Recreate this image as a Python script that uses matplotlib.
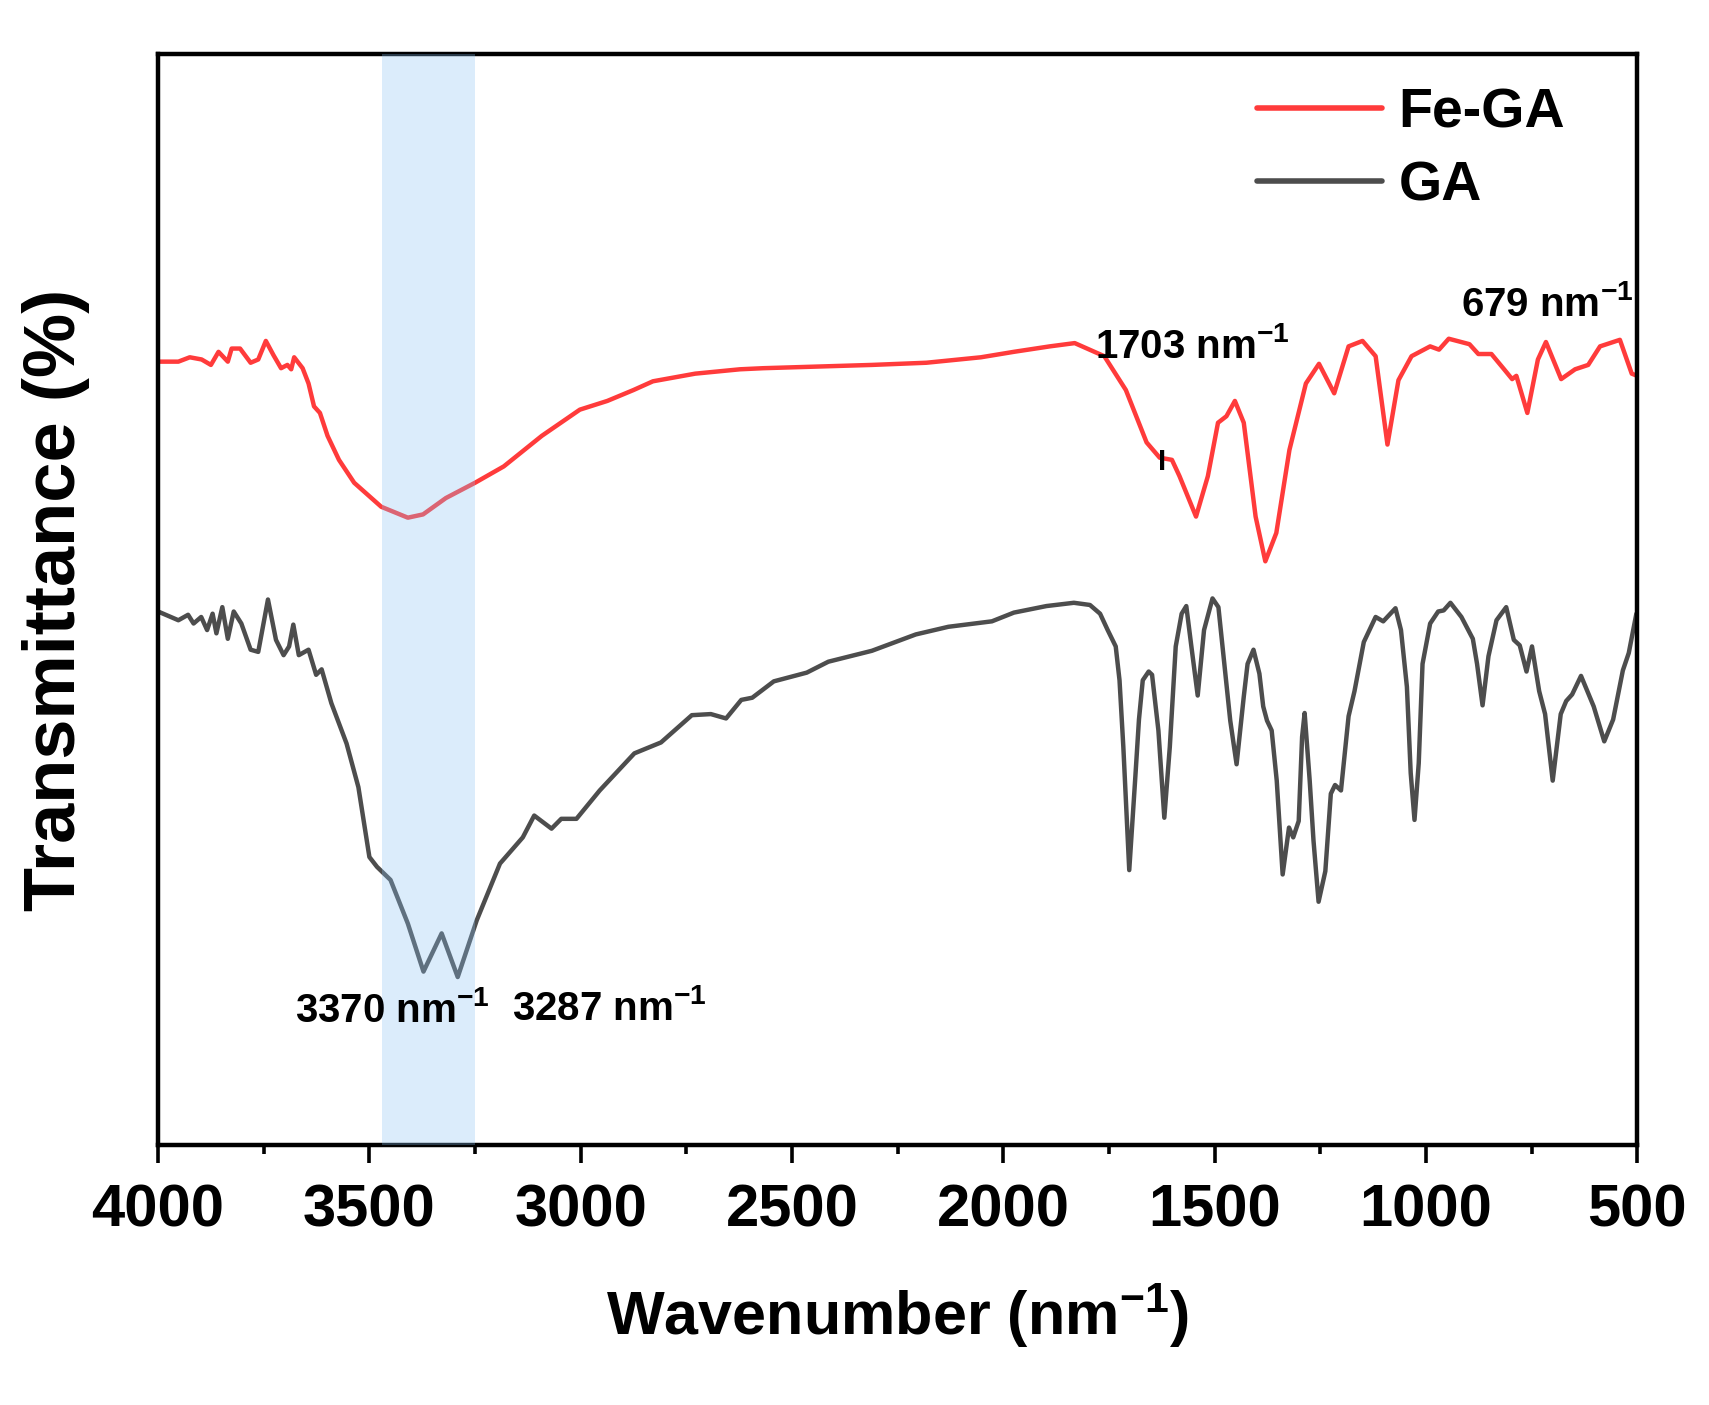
import matplotlib.pyplot as plt
from matplotlib.ticker import MultipleLocator, NullLocator

plt.rcParams['font.family'] = ['Liberation Sans', 'DejaVu Sans']
plt.rcParams['font.weight'] = 'bold'
plt.rcParams['mathtext.fontset'] = 'custom'
plt.rcParams['mathtext.bf'] = 'Liberation Sans:bold'
plt.rcParams['mathtext.rm'] = 'Liberation Sans:bold'
plt.rcParams['mathtext.default'] = 'bf'

# Fe-GA spectrum (wavenumber, transmittance a.u.)
fe_ga_wn = [4000, 3952, 3925, 3897, 3875, 3857, 3835, 3826, 3806, 3781, 3763, 3745,
            3727, 3709, 3694, 3685, 3678, 3658, 3644, 3631, 3617, 3599, 3572, 3536,
            3472, 3409, 3373, 3319, 3250, 3182, 3092, 3002, 2937, 2875, 2829, 2729,
            2623, 2568, 2311, 2182, 2053, 1975, 1890, 1831, 1761, 1710, 1661, 1630,
            1601, 1583, 1544, 1516, 1492, 1472, 1452, 1431, 1403, 1380, 1354, 1323,
            1284, 1253, 1217, 1183, 1150, 1119, 1091, 1065, 1034, 990, 969, 946,
            897, 876, 845, 815, 796, 786, 760, 735, 716, 680, 647, 616, 588, 541,
            513, 500]
fe_ga_t = [71.8, 71.8, 72.2, 72.0, 71.5, 72.7, 71.8, 73.0, 73.0, 71.7, 72.0, 73.7,
           72.4, 71.2, 71.5, 71.1, 72.2, 71.2, 69.8, 67.7, 67.1, 65.0, 62.8, 60.7,
           58.5, 57.5, 57.8, 59.3, 60.7, 62.2, 65.0, 67.4, 68.2, 69.2, 70.0, 70.7,
           71.1, 71.2, 71.5, 71.7, 72.2, 72.7, 73.2, 73.5, 72.3, 69.2, 64.4, 63.0,
           62.8, 61.3, 57.6, 61.3, 66.2, 66.8, 68.2, 66.2, 57.6, 53.5, 56.1, 63.7,
           69.8, 71.6, 68.9, 73.2, 73.7, 72.3, 64.2, 70.1, 72.3, 73.2, 72.9, 73.9,
           73.4, 72.5, 72.5, 71.1, 70.2, 70.5, 67.1, 72.0, 73.6, 70.2, 71.1, 71.5,
           73.2, 73.8, 70.7, 70.5]

# GA spectrum
ga_wn = [4000, 3952, 3929, 3916, 3898, 3884, 3871, 3862, 3848, 3835, 3821, 3803,
         3781, 3763, 3740, 3721, 3703, 3690, 3680, 3667, 3644, 3626, 3613, 3590,
         3554, 3526, 3500, 3482, 3450, 3409, 3372, 3329, 3291, 3246, 3191, 3137,
         3110, 3069, 3046, 3010, 2955, 2873, 2810, 2737, 2692, 2656, 2620, 2594,
         2543, 2465, 2414, 2311, 2207, 2130, 2027, 1975, 1898, 1833, 1795, 1771,
         1753, 1734, 1725, 1716, 1702, 1688, 1679, 1670, 1656, 1648, 1633, 1619,
         1606, 1592, 1578, 1567, 1555, 1540, 1525, 1505, 1491, 1477, 1463, 1448,
         1431, 1422, 1408, 1394, 1385, 1376, 1365, 1353, 1339, 1324, 1314, 1301,
         1293, 1287, 1275, 1266, 1254, 1238, 1225, 1215, 1201, 1183, 1169, 1147,
         1119, 1101, 1072, 1059, 1045, 1036, 1027, 1017, 1008, 990, 971, 958,
         942, 916, 889, 879, 866, 852, 833, 810, 792, 778, 762, 749, 732, 718,
         700, 681, 668, 654, 633, 603, 578, 557, 534, 520, 502]
ga_t = [48.9, 48.1, 48.6, 47.8, 48.4, 47.2, 48.7, 46.9, 49.3, 46.4, 48.9, 47.8,
        45.4, 45.2, 50.0, 46.3, 44.9, 45.7, 47.7, 44.9, 45.4, 43.1, 43.6, 40.5,
        36.8, 32.8, 26.4, 25.5, 24.3, 20.3, 15.9, 19.4, 15.4, 20.6, 25.8, 28.2,
        30.2, 29.0, 29.9, 29.9, 32.5, 35.9, 36.9, 39.4, 39.5, 39.1, 40.8, 41.0,
        42.5, 43.3, 44.3, 45.3, 46.8, 47.5, 48.0, 48.8, 49.4, 49.7, 49.5, 48.7,
        47.2, 45.7, 42.6, 36.5, 25.2, 33.5, 39.0, 42.6, 43.4, 43.1, 38.0, 30.0,
        36.5, 45.7, 48.7, 49.4, 45.7, 41.2, 47.2, 50.1, 49.3, 44.1, 38.9, 34.9,
        41.1, 44.1, 45.4, 43.2, 40.2, 38.9, 38.0, 33.4, 24.8, 29.1, 28.2, 29.7,
        37.4, 39.6, 33.4, 27.9, 22.3, 25.1, 32.2, 33.0, 32.5, 39.3, 41.6, 46.1,
        48.4, 48.0, 49.2, 47.2, 42.0, 34.1, 29.8, 35.0, 44.1, 47.8, 48.9, 49.0,
        49.7, 48.4, 46.4, 44.1, 40.3, 44.8, 48.1, 49.3, 46.3, 45.8, 43.4, 45.7, 41.6, 39.5,
        33.4, 39.5, 40.7, 41.3, 43.0, 40.2, 37.0, 39.0, 43.5, 45.1, 48.7]

band = (3470, 3250)
peak_labels = ['1703', '679', '3370', '3287']
peak_label_pos = [(1782, 73.2), (918, 77.0), (3675, 12.3), (3162, 12.5)]

fig = plt.figure(figsize=(17.09, 14.05), dpi=100)
ax = fig.add_axes([0.0925, 0.185, 0.8655, 0.7766])

line_kw = dict(lw=3.2, solid_joinstyle='round', solid_capstyle='round', zorder=2)
ax.plot(fe_ga_wn, fe_ga_t, color='#ff3b3b', label='Fe-GA', **line_kw)
ax.plot(ga_wn, ga_t, color='#4d4d4d', label='GA', **line_kw)
ax.axvspan(band[0], band[1], color='#8ac3f5', alpha=0.3, lw=0, zorder=3)

for lab, (x, y) in zip(peak_labels, peak_label_pos):
    ax.text(x, y, lab + r' nm$^{-1}$', fontsize=29, fontweight='bold',
            ha='left', va='center', zorder=4)
ax.text(1624, 62.6, 'I', fontsize=21, fontweight='bold', ha='center', va='center')

ax.set_xlim(4000, 500)
ax.set_ylim(0, 100)
ax.xaxis.set_major_locator(MultipleLocator(500))
ax.xaxis.set_minor_locator(MultipleLocator(250))
ax.yaxis.set_major_locator(NullLocator())
ax.tick_params(axis='x', which='major', length=13, width=2.6, labelsize=43, pad=15)
ax.tick_params(axis='x', which='minor', length=6.5, width=2.6)
for lbl in ax.get_xticklabels():
    lbl.set_fontweight('bold')
for s in ax.spines.values():
    s.set_linewidth(3.2)

ax.set_xlabel(r'Wavenumber (nm$^{-1}$)', fontsize=44, fontweight='bold')
ax.set_ylabel('Transmittance (%)', fontsize=52, fontweight='bold')
ax.xaxis.set_label_coords(0.5, -0.125)
ax.yaxis.set_label_coords(-0.046, 0.5)

leg = ax.legend(loc='upper right', frameon=False, fontsize=40, handlelength=2.25,
                handletextpad=0.3, labelspacing=0.38, bbox_to_anchor=(0.985, 1.015))
for h in leg.get_lines():
    h.set_linewidth(4)

fig.savefig('out.png', dpi=100)
